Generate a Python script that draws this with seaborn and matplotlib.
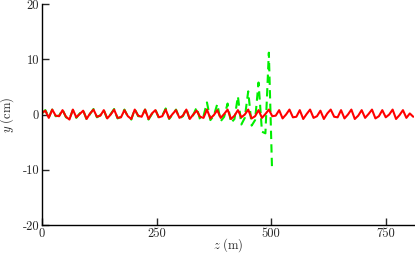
import numpy as np
import pandas as pd
import seaborn as sns
from matplotlib import pyplot as plt

# red trace (z in m, y in cm), sampled every 7.5 m
red_z = [i * 7.5 for i in range(109)]
red_y = [
    0.3, 0.7, -0.6, 0.9, -0.2, -0.3, 0.8, -0.4, -0.9, 0.9, -0.5, 0.1,
    0.7, -0.8, 0.2, 0.9, -0.4, -0.2, 0.8, -0.7, 0.0, 0.9, -0.6, -0.5,
    0.8, -0.3, -0.8, 0.9, -0.2, -0.4, 0.9, -0.8, 0.2, 0.8, -0.5, -0.3,
    0.9, -0.7, 0.1, 0.8, -0.6, -0.2, 0.9, -0.8, 0.0, 0.7, -0.4, -0.6,
    0.9, -0.7, -0.1, 0.8, -0.6, 0.1, 0.9, -0.8, -0.2, 0.8, -0.5, 0.0,
    0.9, -0.7, -0.3, 0.8, -0.6, 0.1, 0.9, -0.3, -0.2, 0.8, -0.7, 0.0,
    0.9, -0.5, -0.4, 0.8, -0.8, 0.1, 0.9, -0.6, -0.3, 0.7, -0.8, 0.2,
    0.9, -0.4, -0.5, 0.8, -0.7, 0.0, 0.9, -0.8, -0.2, 0.8, -0.6, 0.1,
    0.9, -0.7, -0.3, 0.8, -0.5, 0.0, 0.9, -0.8, -0.1, 0.8, -0.6, 0.2,
    -0.4,
]

# green trace, ends at z ~ 500 m
green_z = [i * 7.5 for i in range(67)] + [502]
green_y = [
    0.2, 0.8, -0.5, 0.9, -0.3, -0.2, 0.9, -0.5, -0.8, 0.8, -0.6, 0.2,
    0.8, -0.9, 0.1, 1.0, -0.5, -0.1, 0.8, -0.8, 0.1, 1.0, -0.7, -0.4,
    0.9, -0.4, -0.9, 1.0, -0.3, -0.3, 0.9, -0.9, 0.1, 0.9, -0.6, -0.2,
    1.1, -0.8, 0.0, 0.9, -0.7, -0.3, 1.1, -0.9, -0.1, 1.3, -0.9, -0.3,
    2.2, -1.0, -0.2, 1.9, -1.2, -0.4, 2.0, -1.5, -0.8, 3.3, -1.8, -0.6,
    4.2, -2.0, -1.0, 5.8, -3.1, -3.4, 11.2, -10.0,
]

red = pd.DataFrame({'z': red_z, 'y': red_y})
green = pd.DataFrame({'z': green_z, 'y': green_y})

sns.set_style('ticks')
plt.rcParams['font.family'] = ['cmr10', 'DejaVu Serif']
plt.rcParams['mathtext.fontset'] = 'cm'
plt.rcParams['axes.unicode_minus'] = False

fig = plt.figure(figsize=(4.15, 2.54), dpi=100)
ax = fig.add_axes([0.101, 0.114, 0.897, 0.87])

sns.lineplot(x='z', y='y', data=green, color='#00ee00', linewidth=1.5,
             linestyle=(0, (4, 2.5)), ax=ax)
sns.lineplot(x='z', y='y', data=red, color='#ff0000', linewidth=1.5, ax=ax)

ax.set_xlim(0, 812)
ax.set_ylim(-20, 20)
ax.set_xticks([0, 250, 500, 750])
ax.set_xticklabels(['0', '250', '500', '750'])
ax.set_yticks([-20, -10, 0, 10, 20])
ax.set_yticklabels(['-20', '-10', '0', '10', '20'])
ax.tick_params(direction='in', length=5, width=1, labelsize=9, pad=2)
ax.set_xlabel(r'$z\ \mathrm{(m)}$', fontsize=9)
ax.xaxis.set_label_coords(0.5, -0.05)
ax.set_ylabel(r'$y\ \mathrm{(cm)}$', fontsize=9, labelpad=4.5)
sns.despine(ax=ax)
for s in ['left', 'bottom']:
    ax.spines[s].set_linewidth(1.0)
    ax.spines[s].set_color('black')

fig.savefig('out.png', dpi=100)
